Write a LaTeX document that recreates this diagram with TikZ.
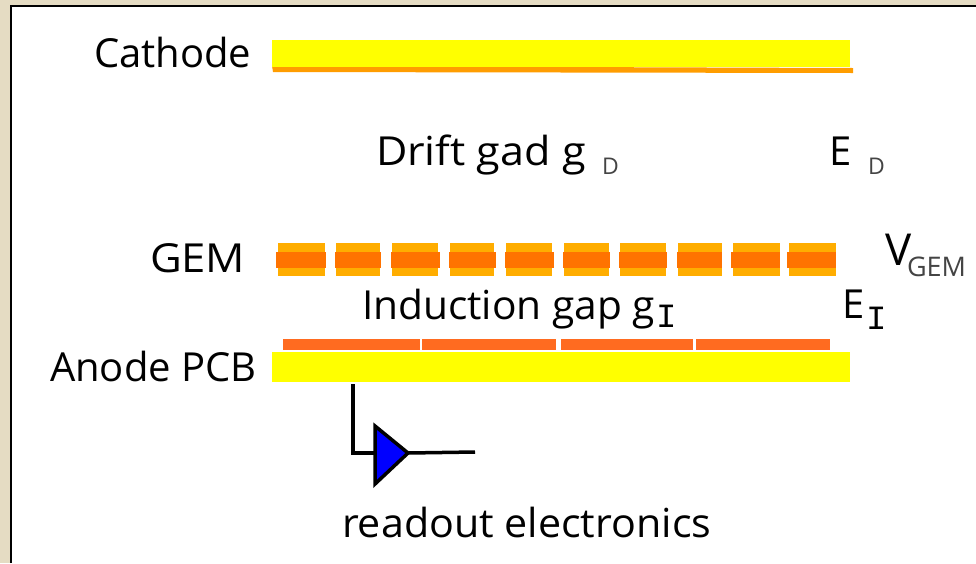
\documentclass[tikz,border=0pt]{standalone}
\usepackage{fontspec}
\setmainfont{Open Sans}
\newfontfamily\monofam{Liberation Mono}
\definecolor{frameb}{HTML}{E5DCC3}
\definecolor{barY}{HTML}{FFFF00}
\definecolor{barO}{HTML}{FF9D00}
\definecolor{gemL}{HTML}{FFAD00}
\definecolor{gemD}{HTML}{FF7300}
\definecolor{strip}{HTML}{FF6B20}
\definecolor{ampB}{HTML}{0000FF}
\definecolor{subG}{HTML}{444444}
\tikzset{
  lbl/.style={anchor=base west,inner sep=0pt,outer sep=0pt,font=\fontsize{40}{44}\selectfont,text=black},
  subl/.style={anchor=base west,inner sep=0pt,outer sep=0pt,font=\fontsize{23}{26}\selectfont,text=subG},
  subi/.style={anchor=base west,inner sep=0pt,outer sep=0pt,font=\monofam\fontsize{34}{36}\selectfont,text=black},
  wire/.style={draw=black,line width=3.5pt,line cap=butt,line join=miter},
  rbar/.style={inner sep=0pt,outer sep=0pt,anchor=north west}
}
\begin{document}
\begin{tikzpicture}[x=1pt,y=-1pt]
\useasboundingbox (0,0) rectangle (976,563);
\fill[frameb] (0,0) rectangle (976,563);
\fill[white] (11,6) rectangle (976,563);
\draw[black,line width=1.5pt] (11,563) -- (11,6) -- (976,6);
% cathode
\fill[barO] (272,66) -- (853,68) -- (853,73) -- (273,72) -- cycle;
\node[rbar,fill=barY,minimum width=578pt,minimum height=27pt] (cathode) at (272,40) {};
% GEM
\foreach \a/\b/\c/\d in {278/324.5/276/325.5,336/380/334.5/381,391.5/438/391/440,450/494/448.5/496,506/552/505/554,564/609/563/610,620/666/619/667,678/722/677/722,733/780/731/780,789/836/787/836}{
  \fill[gemL] (\a,243) rectangle (\b,276);
  \fill[gemD] (\c,252) rectangle (\d,268);
}
% readout strips
\node[rbar,fill=strip,minimum width=136.5pt,minimum height=11pt] (s1) at (283,339) {};
\node[rbar,fill=strip,minimum width=134pt,minimum height=11pt] (s2) at (422,339) {};
\node[rbar,fill=strip,minimum width=132pt,minimum height=11pt] (s3) at (561,339) {};
\node[rbar,fill=strip,minimum width=134pt,minimum height=11pt] (s4) at (696,339) {};
% anode
\node[rbar,fill=barY,minimum width=578pt,minimum height=30pt] (anode) at (272,352) {};
% amplifier
\coordinate (ampA) at (375,426);
\coordinate (ampB) at (375,484);
\coordinate (ampC) at (408,453);
\coordinate (ampIn) at (375,453);
\coordinate (pad) at (353,384);
\coordinate (outEnd) at (475,452);
\draw[wire] (pad) -- (353,453) -- (ampIn);
\draw[wire] (ampC) -- (outEnd);
\draw[black,line width=3.5pt,fill=ampB,line join=miter] (ampA) -- (ampC) -- (ampB) -- cycle;
% labels
\node[lbl] (tCath) at (94,67) {Cathode};
\node[lbl] (tDrift) at (376,165) {\scalebox{1.077}[1]{Drift gad g}};
\node[subl] (tDriftS) at (602,174) {D};
\node[lbl] (tEd) at (829,165) {E};
\node[subl] (tEdS) at (868,174) {D};
\node[lbl] (tGem) at (150,272) {\scalebox{1.09}[1]{GEM}};
\node[lbl,font=\fontsize{44}{48}\selectfont] (tV) at (885,265) {V};
\node[subl,font=\fontsize{27}{30}\selectfont] (tVs) at (907,276) {GEM};
\node[lbl] (tInd) at (362,319) {\scalebox{1.017}[1]{Induction gap g}};
\node[subi] (tIndS) at (656,327) {I};
\node[lbl] (tEi) at (842,318) {E};
\node[subi] (tEiS) at (866,329) {I};
\node[lbl] (tAn) at (50,381) {Anode PCB};
\node[lbl] (tRead) at (342,537) {\scalebox{1.03}[1]{readout electronics}};
\end{tikzpicture}
\end{document}
